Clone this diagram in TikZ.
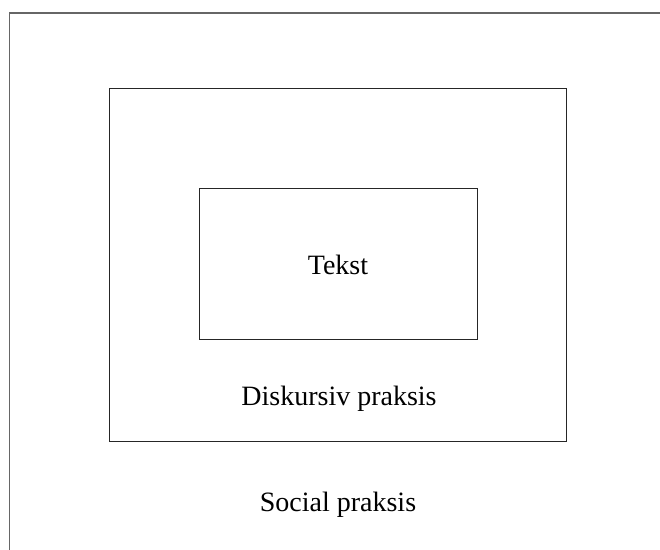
\documentclass[tikz,border=0pt]{standalone}
\usepackage{fontspec}
\setmainfont{Liberation Serif}
\usetikzlibrary{positioning}

\begin{document}
\begin{tikzpicture}[x=1pt, y=-1pt, font=\fontsize{28}{32}\selectfont]
  \tikzstyle{frame} = [draw=black!60, line width=1.5pt, rectangle, inner sep=0pt]
  \tikzstyle{block} = [draw=black!85, line width=1pt, rectangle, inner sep=0pt]
  \tikzstyle{lbl} = [inner sep=0pt, anchor=base]
  \useasboundingbox (0,0) rectangle (660,549);
  \clip (0,0) rectangle (660,549);
  \node [frame, minimum width=680pt, minimum height=580pt] (social) at (349.5,303) {};
  \node [block, minimum width=457pt, minimum height=353pt] (diskursiv) at (337.5,264.5) {};
  \node [block, minimum width=278pt, minimum height=151pt] (tekst) at (338,263.5) {};
  \node [lbl] (tekstlbl) at (338,274) {Tekst};
  \node [lbl] (disklbl) at (339,405) {Diskursiv praksis};
  \node [lbl] (sociallbl) at (338,511) {Social praksis};
\end{tikzpicture}
\end{document}
